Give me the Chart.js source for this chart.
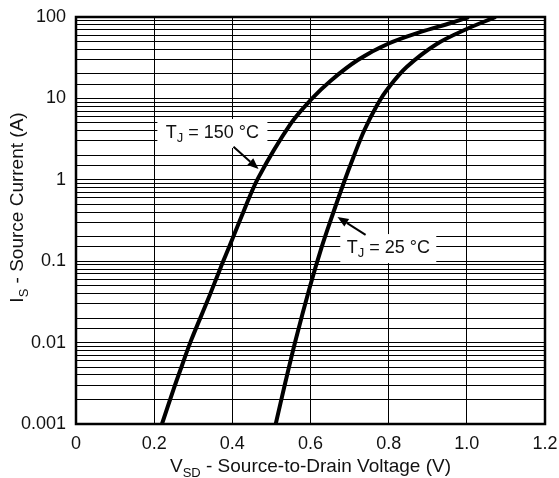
<!DOCTYPE html>
<html>
<head>
<meta charset="utf-8">
<script src="https://cdn.jsdelivr.net/npm/chart.js@4"></script>
<style>
	html, body { margin: 0; padding: 0; background: #fff; }
	#wrap { width: 559px; height: 478px; position: relative; }
</style>
</head>
<body>
<div id="wrap"><canvas id="chart"></canvas></div>
<script>
// ============= Data =============

const vsd150 = [0.220, 0.250, 0.271, 0.294, 0.339, 0.369, 0.392, 0.428, 0.466, 0.549, 0.603, 0.651, 0.721, 0.800, 0.882, 0.959, 1.005];
const is150  = [0.001, 0.0027, 0.0052, 0.0105, 0.035, 0.081, 0.15, 0.40, 1.05, 4.85, 9.85, 16.4, 29.6, 47.2, 65.5, 84.4, 100];

const vsd25 = [0.511, 0.536, 0.562, 0.599, 0.627, 0.658, 0.685, 0.710, 0.738, 0.772, 0.799, 0.846, 0.923, 1.000, 1.074];
const is25  = [0.001, 0.0033, 0.0108, 0.0496, 0.141, 0.391, 0.914, 1.91, 4.09, 8.53, 13.4, 24.3, 46.6, 71.3, 100];

const xTickLabels = ["0", "0.2", "0.4", "0.6", "0.8", "1.0", "1.2"];
const yTickLabels = ["0.001", "0.01", "0.1", "1", "10", "100"];

// label anchors (x in V, y in A)
const labels = [
	{ main: "T", sub: "J", rest: " = 150 °C", at: [0.349, 3.76], tail: [0.403, 2.54], head: [0.467, 1.36], box: 110 },
	{ main: "T", sub: "J", rest: " = 25 °C", at: [0.799, 0.145], tail: [0.741, 0.211], head: [0.669, 0.35], box: 96 }
];

const FONT = "'Liberation Sans', Arial, sans-serif";

// ============= Utility =============

function points(xs, ys)
{
	return xs.map((x, i) => ({ x, y: ys[i] }));
}

function isDecade(v)
{
	const l = Math.log10(v);
	return Math.abs(l - Math.round(l)) < 1e-6;
}

// draws "main" + subscript + "rest", centered on cx
function drawSubText(ctx, main, sub, rest, cx, cy, size)
{
	const subSize = Math.round(size * 0.7);
	ctx.font = `${size}px ${FONT}`;
	const w1 = ctx.measureText(main).width;
	const w3 = ctx.measureText(rest).width;
	ctx.font = `${subSize}px ${FONT}`;
	const w2 = ctx.measureText(sub).width;

	let x = cx - (w1 + w2 + w3) / 2;
	ctx.textBaseline = "middle";
	ctx.textAlign = "left";

	ctx.font = `${size}px ${FONT}`;
	ctx.fillText(main, x, cy);
	x += w1;
	ctx.font = `${subSize}px ${FONT}`;
	ctx.fillText(sub, x, cy + size * 0.32);
	x += w2;
	ctx.font = `${size}px ${FONT}`;
	ctx.fillText(rest, x, cy);
}

function drawArrow(ctx, x1, y1, x2, y2)
{
	const ang = Math.atan2(y2 - y1, x2 - x1);
	const len = 11, half = 4.5;
	const bx = x2 - len * Math.cos(ang), by = y2 - len * Math.sin(ang);

	ctx.lineWidth = 2;
	ctx.beginPath();
	ctx.moveTo(x1, y1);
	ctx.lineTo(bx, by);
	ctx.stroke();

	ctx.beginPath();
	ctx.moveTo(x2, y2);
	ctx.lineTo(bx + half * Math.sin(ang), by - half * Math.cos(ang));
	ctx.lineTo(bx - half * Math.sin(ang), by + half * Math.cos(ang));
	ctx.closePath();
	ctx.fill();
}

const decorations = {
	id: "decorations",
	beforeDatasetsDraw(chart)
	{
		const { ctx, scales: { x, y } } = chart;
		ctx.save();
		for (const l of labels)
		{
			const cx = x.getPixelForValue(l.at[0]);
			const cy = y.getPixelForValue(l.at[1]);
			ctx.fillStyle = "#fff";
			ctx.fillRect(cx - l.box / 2, cy - 14, l.box, 29);
			ctx.fillStyle = "#111";
			drawSubText(ctx, l.main, l.sub, l.rest, cx, cy, 18);
		}
		ctx.restore();
	},
	afterDatasetsDraw(chart)
	{
		const { ctx, chartArea: a, scales: { x, y } } = chart;
		ctx.save();
		ctx.strokeStyle = "#000";
		ctx.fillStyle = "#000";
		for (const l of labels)
		{
			drawArrow(ctx,
				x.getPixelForValue(l.tail[0]), y.getPixelForValue(l.tail[1]),
				x.getPixelForValue(l.head[0]), y.getPixelForValue(l.head[1]));
		}

		// plot frame
		ctx.lineWidth = 2.5;
		ctx.strokeRect(a.left, a.top, a.right - a.left, a.bottom - a.top);

		// axis titles
		ctx.fillStyle = "#111";
		drawSubText(ctx, "V", "SD", " - Source-to-Drain Voltage (V)", (a.left + a.right) / 2, 467, 19);

		ctx.translate(18, (a.top + a.bottom) / 2 - 13);
		ctx.rotate(-Math.PI / 2);
		drawSubText(ctx, "I", "S", " - Source Current (A)", 0, 0, 19);
		ctx.restore();
	}
};

// ============= Chart =============

const lineStyle = {
	borderColor: "#000",
	borderWidth: 4,
	pointRadius: 0,
	fill: false,
	tension: 0.35
};

new Chart(document.getElementById("chart"), {
	type: "line",
	data: {
		datasets: [
			{ label: "TJ = 150 °C", data: points(vsd150, is150), ...lineStyle },
			{ label: "TJ = 25 °C", data: points(vsd25, is25), ...lineStyle }
		]
	},
	options: {
		responsive: true,
		maintainAspectRatio: false,
		animation: false,
		events: [],
		layout: { padding: { top: 17, right: 14, left: 0, bottom: 0 } },
		plugins: { legend: { display: false }, tooltip: { enabled: false } },
		scales: {
			x: {
				type: "linear",
				min: 0,
				max: 1.2,
				ticks: {
					stepSize: 0.2,
					padding: 9,
					color: "#111",
					font: { family: FONT, size: 18 },
					callback: (v, i) => xTickLabels[i] ?? ""
				},
				grid: { color: "#000", lineWidth: 1, drawTicks: false },
				border: { display: false },
				afterFit: s => { s.height = 478 - 424; s.paddingLeft = 0; s.paddingRight = 0; }
			},
			y: {
				type: "logarithmic",
				min: 0.001,
				max: 100,
				ticks: {
					autoSkip: false,
					padding: 10,
					color: "#111",
					font: { family: FONT, size: 18 },
					callback: v => isDecade(v) ? yTickLabels[Math.round(Math.log10(v)) + 3] : ""
				},
				grid: { color: "#000", lineWidth: 1, drawTicks: false },
				border: { display: false },
				afterFit: s => { s.width = 76; s.paddingTop = 0; s.paddingBottom = 0; }
			}
		}
	},
	plugins: [decorations]
});
</script>
</body>
</html>
